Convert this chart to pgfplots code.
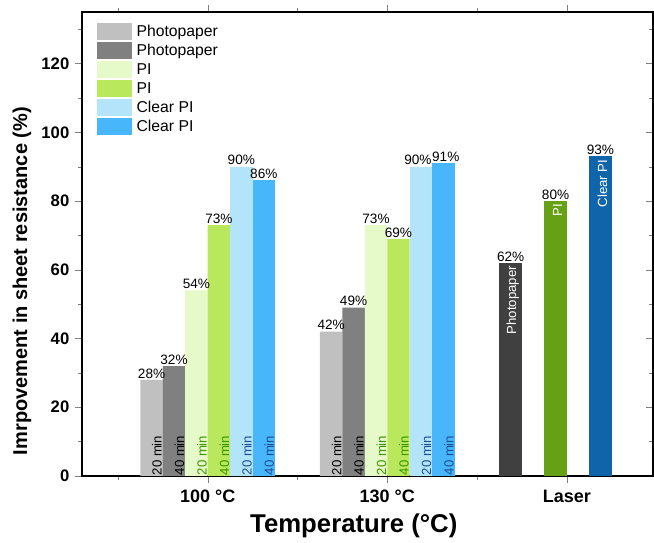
\documentclass[border=0pt]{standalone}
\usepackage{pgfplots}
\pgfplotsset{compat=1.18}
\usepackage{fontspec}
\setmainfont{Liberation Sans}
\definecolor{pp1}{RGB}{192,192,192}
\definecolor{pp2}{RGB}{128,128,128}
\definecolor{pi1}{RGB}{230,249,200}
\definecolor{pi2}{RGB}{185,232,92}
\definecolor{cp1}{RGB}{180,228,250}
\definecolor{cp2}{RGB}{72,182,250}
\definecolor{lpp}{RGB}{64,64,64}
\definecolor{lpi}{RGB}{102,160,20}
\definecolor{lcp}{RGB}{16,100,170}
\definecolor{pitxt}{RGB}{60,150,0}
\definecolor{cptxt}{RGB}{30,80,150}
\tikzset{
  tl/.style={font=\fontsize{9.9}{11}\selectfont, xshift=-0.8pt, yshift=0.3pt, rotate=90, anchor=base west, inner sep=0pt},
  ll/.style={font=\fontsize{9.9}{11}\selectfont, xshift=1.5pt, yshift=-2.2pt, rotate=90, anchor=east, inner sep=0pt, text=white},
}
\pgfplotsset{
  common/.style={
    width=428.25pt, height=348pt, scale only axis,
    xmin=0.3, xmax=3.48, ymin=0, ymax=135,
    /pgf/number format/assume math mode=true,
  },
}
\begin{document}
\begin{tikzpicture}
% left y axis with outside ticks and labels
\begin{axis}[common,
  hide x axis,
  axis y line*=left,
  tick align=outside,
  ytick={0,20,...,120}, minor ytick={10,30,...,130},
  major tick length=5pt, minor tick length=3pt,
  yticklabel style={font=\bfseries\fontsize{12.5}{14}\selectfont, xshift=-1pt},
  ylabel={\bfseries Imrpovement in sheet resistance (\%)},
  ylabel style={font=\fontsize{15}{18}\selectfont, at={(axis description cs:-0.105,0.42)}, anchor=center},
  axis line style={line width=0.8pt},
]
\addplot[draw=none] coordinates {(1,0)};
\end{axis}
\begin{axis}[common, name=ax,
  tick align=inside,
  ytick pos=right, yticklabels={},
  ytick={0,20,...,120}, minor ytick={10,30,...,130},
  xtick={1,2,3}, minor xtick={0.5,1.5,2.5},
  xtick pos=both,
  xticklabels={\bfseries 100 °C, \bfseries 130 °C, \bfseries Laser},
  xticklabel style={font=\fontsize{13.5}{16}\selectfont, yshift=-2pt},
  major tick length=5pt, minor tick length=3pt,
  xlabel={\bfseries Temperature (°C)},
  xlabel style={font=\fontsize{19.3}{22}\selectfont, at={(axis description cs:0.476,0)}, anchor=center, yshift=-37.5pt},
  axis line style={line width=0.8pt},
  ybar, bar width=0.125, bar shift=0pt,
  every axis plot/.append style={draw=none},
  nodes near coords={\pgfmathprintnumber{\pgfplotspointmeta}\%},
  every node near coord/.append style={font=\fontsize{10.2}{12}\selectfont, text=black, inner sep=0.3pt, yshift=0.7pt},
  legend style={draw=none, fill=none, at={(0,1)}, anchor=north west, xshift=11pt, yshift=-8pt,
    font=\fontsize{11.8}{13}\selectfont, row sep=1.5pt, inner sep=0pt, nodes={inner sep=0.5pt}},
  legend cell align=left,
  legend image code/.code={\fill[#1] (0pt,-6.4pt) rectangle (26.25pt,6.4pt);},
  legend style={/tikz/every odd column/.append style={column sep=3pt}},
]
\addplot[fill=pp1] coordinates {(0.6875,28) (1.6875,42)};
\addlegendentry{Photopaper}
\addplot[fill=pp2] coordinates {(0.8125,32) (1.8125,49)};
\addlegendentry{Photopaper}
\addplot[fill=pi1] coordinates {(0.9375,54) (1.9375,73)};
\addlegendentry{PI}
\addplot[fill=pi2] coordinates {(1.0625,73) (2.0625,69)};
\addlegendentry{PI}
\addplot[fill=cp1] coordinates {(1.1875,90)};
\addlegendentry{Clear PI}
\addplot[fill=cp2] coordinates {(1.3125,86)};
\addlegendentry{Clear PI}
\addplot[fill=cp1, forget plot, every node near coord/.append style={xshift=-2.2pt}] coordinates {(2.1875,90)};
\addplot[fill=cp2, forget plot, every node near coord/.append style={xshift=1.8pt}] coordinates {(2.3125,91)};
\addplot[fill=lpp, forget plot] coordinates {(2.6875,62)};
\addplot[fill=lpi, forget plot] coordinates {(2.9375,80)};
\addplot[fill=lcp, forget plot] coordinates {(3.1875,93)};
% time labels inside bars
\node[tl, text=black] at (axis cs:0.75,0) {20 min};
\node[tl, text=black] at (axis cs:0.875,0) {40 min};
\node[tl, text=pitxt] at (axis cs:1.0,0) {20 min};
\node[tl, text=pitxt] at (axis cs:1.125,0) {40 min};
\node[tl, text=cptxt] at (axis cs:1.25,0) {20 min};
\node[tl, text=cptxt] at (axis cs:1.375,0) {40 min};
\node[tl, text=black] at (axis cs:1.75,0) {20 min};
\node[tl, text=black] at (axis cs:1.875,0) {40 min};
\node[tl, text=pitxt] at (axis cs:2.0,0) {20 min};
\node[tl, text=pitxt] at (axis cs:2.125,0) {40 min};
\node[tl, text=cptxt] at (axis cs:2.25,0) {20 min};
\node[tl, text=cptxt] at (axis cs:2.375,0) {40 min};
\node[ll] at (axis cs:2.6875,62) {Photopaper};
\node[ll] at (axis cs:2.9375,80) {PI};
\node[ll] at (axis cs:3.1875,93) {Clear PI};
\end{axis}
\pgfresetboundingbox
\path[use as bounding box] ([shift={(-61.5pt,-50.25pt)}]ax.south west) rectangle ([shift={(0.75pt,9pt)}]ax.north east);
\end{tikzpicture}
\end{document}
